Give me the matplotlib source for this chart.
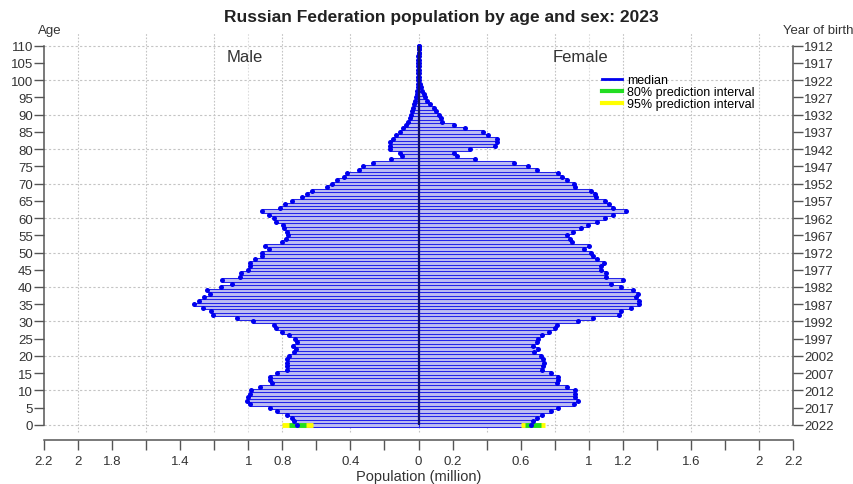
import numpy as np
import matplotlib
matplotlib.use("Agg")
import matplotlib.pyplot as plt
from matplotlib.lines import Line2D

plt.rcParams['font.family'] = ['Liberation Sans', 'DejaVu Sans']

# population by single year of age, millions (ages 0..100)
male = [0.715, 0.73, 0.745, 0.77, 0.83, 0.875, 0.99, 1.01, 1.0, 0.99,
        0.985, 0.93, 0.86, 0.87, 0.87, 0.83, 0.77, 0.775, 0.775, 0.775,
        0.76, 0.73, 0.72, 0.735, 0.715, 0.725, 0.76, 0.80, 0.84, 0.85,
        0.97, 1.065, 1.205, 1.22, 1.265, 1.32, 1.29, 1.26, 1.226, 1.245,
        1.16, 1.095, 1.155, 1.05, 1.04, 1.0, 0.99, 0.99, 0.96, 0.92,
        0.92, 0.88, 0.90, 0.80, 0.78, 0.765, 0.77, 0.793, 0.797, 0.84,
        0.85, 0.88, 0.92, 0.813, 0.784, 0.745, 0.686, 0.657, 0.627, 0.54,
        0.51, 0.478, 0.44, 0.42, 0.35, 0.326, 0.267, 0.16, 0.095, 0.11,
        0.17, 0.17, 0.165, 0.15, 0.13, 0.11, 0.09, 0.075, 0.062, 0.052,
        0.044, 0.037, 0.031, 0.025, 0.02, 0.015, 0.011, 0.008, 0.005, 0.003,
        0.002]
female = [0.66, 0.675, 0.694, 0.723, 0.781, 0.82, 0.914, 0.938, 0.918, 0.922,
          0.918, 0.87, 0.811, 0.817, 0.82, 0.778, 0.723, 0.733, 0.74, 0.733,
          0.72, 0.68, 0.70, 0.675, 0.694, 0.70, 0.723, 0.766, 0.80, 0.811,
          0.938, 1.025, 1.175, 1.19, 1.25, 1.298, 1.298, 1.279, 1.288, 1.26,
          1.187, 1.129, 1.20, 1.103, 1.103, 1.074, 1.074, 1.09, 1.05, 1.025,
          1.016, 0.973, 1.0, 0.90, 0.889, 0.875, 0.908, 0.957, 0.996, 1.05,
          1.093, 1.14, 1.22, 1.14, 1.12, 1.093, 1.045, 1.035, 1.015, 0.918,
          0.914, 0.87, 0.84, 0.82, 0.694, 0.645, 0.563, 0.33, 0.226, 0.207,
          0.305, 0.45, 0.46, 0.46, 0.41, 0.38, 0.275, 0.206, 0.138, 0.13,
          0.12, 0.10, 0.09, 0.07, 0.05, 0.04, 0.03, 0.02, 0.012, 0.008,
          0.005]
# ages 101..110, practically empty
tail_m = [0.001, 0.0008, 0.0005, 0.0003, 0.0002, 0.0001, 0.0001, 0, 0, 0]
tail_f = [0.003, 0.002, 0.0015, 0.001, 0.0006, 0.0004, 0.0002, 0.0001, 0, 0]
male = np.array(male + tail_m)
female = np.array(female + tail_f)
ages = np.arange(len(male))

# prediction intervals at age 0 (only visible there)
male_pi95 = (0.80, 0.62)
male_pi80 = (0.76, 0.66)
female_pi95 = (0.60, 0.745)
female_pi80 = (0.625, 0.72)

xticks = np.round(np.arange(-2.2, 2.21, 0.2), 1)
xlabeled = [-2.2, -2.0, -1.8, -1.4, -1.0, -0.8, -0.4, 0.0, 0.2, 0.6, 1.0, 1.2, 1.6, 2.0, 2.2]
yticks = np.arange(0, 111, 5)
year = 2022

fig = plt.figure(figsize=(8.54, 4.85), dpi=100)
ax = fig.add_axes([0.0515, 0.0907, 0.8771, 0.8413])
ax.set_xlim(-2.2, 2.2)
ax.set_ylim(-4.4, 114)

# grid
gcol = '#c4c4c4'
ax.vlines(np.arange(-2.0, 2.01, 0.4), -2, 114, colors=gcol, linestyles=(0, (1.5, 1.5)), lw=0.8, zorder=0)
ax.vlines([-1.0, 1.0], -2, 114, colors='#dddddd', linestyles=(0, (1.5, 1.5)), lw=0.8, zorder=0)
ax.hlines(np.arange(0, 111, 10), -2.2, 2.2, colors=gcol, linestyles=(0, (2, 2)), lw=0.8, zorder=0)

# bars
ax.barh(ages, -male, height=1.0, color='#bdbdf3', edgecolor='#2424e8', lw=0.75, zorder=1)
ax.barh(ages, female, height=1.0, color='#bdbdf3', edgecolor='#2424e8', lw=0.75, zorder=1)

# intervals at age 0
ax.hlines(0, -male_pi95[0], -male_pi95[1], colors='#ffff00', lw=3.5, zorder=2)
ax.hlines(0, -male_pi80[0], -male_pi80[1], colors='#22dd22', lw=3.5, zorder=2)
ax.hlines(0, female_pi95[0], female_pi95[1], colors='#ffff00', lw=3.5, zorder=2)
ax.hlines(0, female_pi80[0], female_pi80[1], colors='#22dd22', lw=3.5, zorder=2)

# medians
ax.plot(-male, ages, 'o', ms=3.6, color='#0000ee', mec='none', zorder=3)
ax.plot(female, ages, 'o', ms=3.6, color='#0000ee', mec='none', zorder=3)
ax.vlines(0, ages[0], ages[-1], colors='#10106a', lw=1.6, zorder=4)

# axes styling
for s in ['top', 'right']:
    ax.spines[s].set_visible(False)
scol = '#555555'
ax.spines['left'].set_bounds(0, 110)
ax.spines['left'].set_color(scol)
ax.spines['left'].set_linewidth(1.1)
ax.spines['bottom'].set_bounds(-2.2, 2.2)
ax.spines['bottom'].set_color(scol)
ax.spines['bottom'].set_linewidth(1.1)

fs = 9.5
ax.set_yticks(yticks)
ax.set_yticklabels([str(a) for a in yticks])
ax.set_xticks(xticks)
ax.set_xticklabels([('%g' % abs(t)) if t in xlabeled else '' for t in xticks])
ax.tick_params(axis='y', direction='out', length=7, width=1, color=scol,
               labelsize=fs, labelcolor='#333333', pad=1)
ax.tick_params(axis='x', direction='out', length=7, width=1, color=scol,
               labelsize=fs, labelcolor='#333333', pad=4)
ax.set_xlabel('Population (million)', fontsize=10.5, color='#333333', labelpad=1)

ax2 = ax.twinx()
ax2.set_ylim(ax.get_ylim())
for s in ['top', 'left', 'bottom']:
    ax2.spines[s].set_visible(False)
ax2.spines['right'].set_bounds(0, 110)
ax2.spines['right'].set_color(scol)
ax2.spines['right'].set_linewidth(1.1)
ax2.set_yticks(yticks)
ax2.set_yticklabels([str(year - a) for a in yticks])
ax2.tick_params(axis='y', direction='out', length=7, width=1, color=scol,
                labelsize=fs, labelcolor='#333333', pad=1)

fig.text(0.517, 0.963, 'Russian Federation population by age and sex: 2023',
         ha='center', va='center', fontsize=12.5, fontweight='bold', color='#222222')
fig.text(0.044, 0.937, 'Age', ha='left', va='center', fontsize=fs, color='#333333')
fig.text(0.999, 0.937, 'Year of birth', ha='right', va='center', fontsize=fs, color='#333333')
ax.text(-1.02, 107, 'Male', ha='center', va='center', fontsize=12, color='#333333')
ax.text(0.95, 107, 'Female', ha='center', va='center', fontsize=12, color='#333333')

handles = [Line2D([], [], color='#0000ee', lw=2),
           Line2D([], [], color='#22dd22', lw=3),
           Line2D([], [], color='#ffff00', lw=3)]
ax.legend(handles, ['median', '80% prediction interval', '95% prediction interval'],
          loc='upper left', bbox_to_anchor=(0.737, 0.912), frameon=False,
          fontsize=9, handlelength=1.6, handletextpad=0.4, labelspacing=0.0,
          borderpad=0)

fig.savefig('out.png', dpi=100)
